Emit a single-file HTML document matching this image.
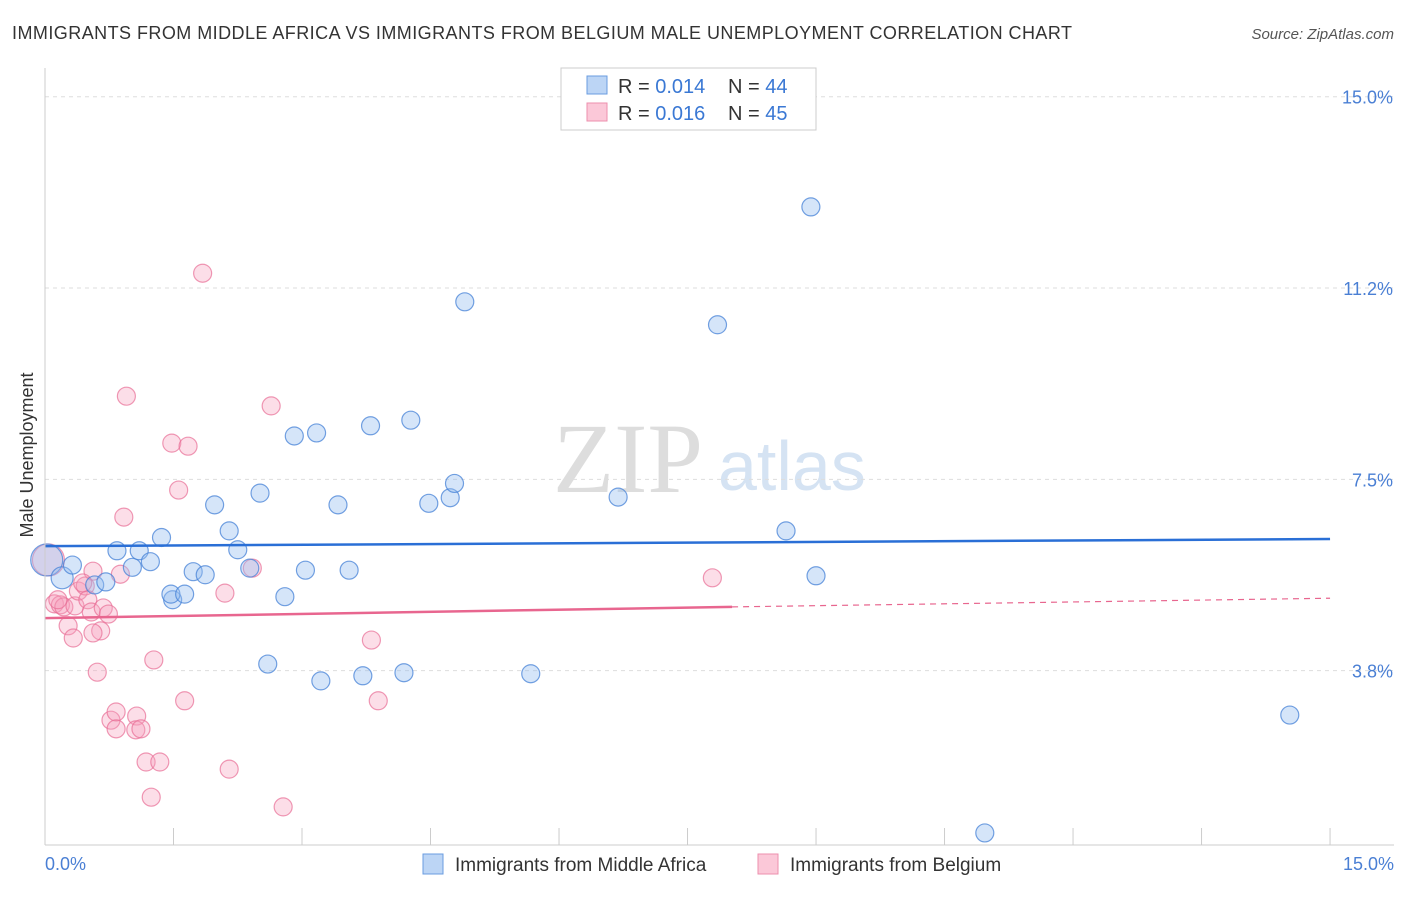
<!DOCTYPE html>
<html><head><meta charset="utf-8"><style>
body{margin:0;background:#fff;font-family:"Liberation Sans",sans-serif}
</style></head><body>
<svg id="chart" width="1406" height="892" font-family="Liberation Sans, sans-serif">
<text x="12" y="39" font-size="18" fill="#333" textLength="1060">IMMIGRANTS FROM MIDDLE AFRICA VS IMMIGRANTS FROM BELGIUM MALE UNEMPLOYMENT CORRELATION CHART</text>
<text x="1394" y="39" font-size="15" fill="#555" font-style="italic" text-anchor="end">Source: ZipAtlas.com</text>
<text x="0" y="0" transform="translate(33,455) rotate(-90)" font-size="18" fill="#333" text-anchor="middle">Male Unemployment</text>
<text x="553" y="492" font-size="100" fill="#ddd" style="font-family:'Liberation Serif',serif">ZIP</text>
<text x="718" y="490" font-size="70" fill="#d5e3f3">atlas</text>
<g id="grid"></g><g id="marks"></g>
<line x1="45" y1="845" x2="1394" y2="845" stroke="#ccc"/>
<line x1="45" y1="68" x2="45" y2="845" stroke="#ccc"/>
<text x="45" y="870" font-size="18" fill="#4a7fd4">0.0%</text>
<text x="1394" y="870" font-size="18" fill="#4a7fd4" text-anchor="end">15.0%</text>
<g>
<rect x="561" y="68" width="255" height="62" fill="#fff" stroke="#ccc"/>
<rect x="587" y="76" width="20" height="18" fill="#bcd5f5" stroke="#6a9ce0"/>
<rect x="587" y="103" width="20" height="18" fill="#fbc8d8" stroke="#ec8fae"/>
<text x="618" y="93" font-size="20" fill="#333">R = <tspan fill="#3a78d4">0.014</tspan></text>
<text x="728" y="93" font-size="20" fill="#333">N = <tspan fill="#3a78d4">44</tspan></text>
<text x="618" y="120" font-size="20" fill="#333">R = <tspan fill="#3a78d4">0.016</tspan></text>
<text x="728" y="120" font-size="20" fill="#333">N = <tspan fill="#3a78d4">45</tspan></text>
</g>
<g>
<rect x="423" y="854" width="20" height="20" fill="#bcd5f5" stroke="#6a9ce0"/>
<text x="455" y="871" font-size="19" fill="#333">Immigrants from Middle Africa</text>
<rect x="758" y="854" width="20" height="20" fill="#fbc8d8" stroke="#ec8fae"/>
<text x="790" y="871" font-size="19" fill="#333">Immigrants from Belgium</text>
</g>
</svg>
<script>
const yTicks=[3.75,7.5,11.25,15];
const yTickLabels=["3.8%","7.5%","11.2%","15.0%"];
const blueX=[0.02,0.2,0.32,0.58,0.71,0.84,1.02,1.1,1.23,1.36,1.49,1.47,1.63,1.73,1.87,1.98,2.15,2.25,2.39,2.51,2.6,2.8,2.91,3.04,3.17,3.22,3.42,3.55,3.71,3.8,4.19,4.27,4.48,4.73,4.78,4.9,5.67,6.69,7.85,8.65,8.94,9.0,10.97,14.53];
const blueY=[5.92,5.57,5.82,5.43,5.49,6.1,5.776,6.1,5.886,6.36,5.14,5.25,5.25,5.69,5.63,7.0,6.49,6.12,5.76,7.23,3.88,5.2,8.35,5.72,8.41,3.55,7.0,5.72,3.65,8.55,3.71,8.66,7.03,7.14,7.42,10.98,3.69,7.152,10.53,6.49,12.84,5.61,0.57,2.88];
const pinkX=[0.04,0.11,0.18,0.22,0.27,0.33,0.35,0.39,0.47,0.50,0.54,0.56,0.61,0.65,0.68,0.74,0.77,0.83,0.83,0.88,0.92,0.95,1.07,1.06,1.12,1.18,1.24,1.27,1.34,1.48,1.56,1.63,1.67,1.84,2.10,2.15,2.42,2.64,2.78,3.81,3.89,7.79,0.44,0.15,0.56];
const pinkY=[5.92,5.06,5.04,5.00,4.63,4.39,5.02,5.31,5.41,5.14,4.90,5.70,3.72,4.53,4.98,4.86,2.78,2.94,2.61,5.64,6.76,9.13,2.86,2.59,2.61,1.96,1.27,3.96,1.96,8.21,7.29,3.16,8.15,11.54,5.27,1.82,5.76,8.94,1.08,4.35,3.16,5.57,5.47,5.14,4.49];
const X=v=>45+v*85.67, Y=v=>862-v*51.02;
const NS="http://www.w3.org/2000/svg";
const grid=document.getElementById('grid'), marks=document.getElementById('marks');
function mk(tag,attrs,parent){const e=document.createElementNS(NS,tag);for(const k in attrs)e.setAttribute(k,attrs[k]);parent.appendChild(e);return e;}
yTicks.forEach((t,i)=>{
 const l=mk('line',{x1:45,x2:1394,y1:Y(t),y2:Y(t),stroke:'#ddd','stroke-dasharray':'4,4'},grid);
 
 
 const tx=mk('text',{x:1393,y:Y(t)+7,'font-size':18,fill:'#4a7fd4','text-anchor':'end'},grid);
 tx.textContent=yTickLabels[i];
 
 
});
for(let i=1;i<=10;i++){const v=i*1.5;
 const l=mk('line',{x1:X(v),x2:X(v),y1:828,y2:845,stroke:'#ccc'},grid);
 
 
}
pinkX.forEach((x,i)=>{const r=(i===0)?16:9;
 const c=mk('circle',{cx:X(x),cy:Y(pinkY[i]),r:r,fill:'rgba(246,160,188,0.35)',stroke:'rgba(232,110,150,0.7)','stroke-width':1.2},marks);
 
 
});
blueX.forEach((x,i)=>{const r=(i===0)?16:(i===1?11:9);
 const c=mk('circle',{cx:X(x),cy:Y(blueY[i]),r:r,fill:'rgba(150,190,240,0.4)',stroke:'rgba(70,130,215,0.75)','stroke-width':1.2},marks);
 
 
});
let l=mk('line',{x1:X(0),x2:X(15),y1:Y(6.19),y2:Y(6.33),stroke:'#2a6fd6','stroke-width':2.5},marks);


l=mk('line',{x1:X(0),x2:X(8.02),y1:Y(4.78),y2:Y(5.0),stroke:'#e8668f','stroke-width':2.5},marks);


l=mk('line',{x1:X(8.02),x2:X(15),y1:Y(5.0),y2:Y(5.17),stroke:'#e8668f','stroke-width':1.2,'stroke-dasharray':'6,5'},marks);


</script>
</body></html>
